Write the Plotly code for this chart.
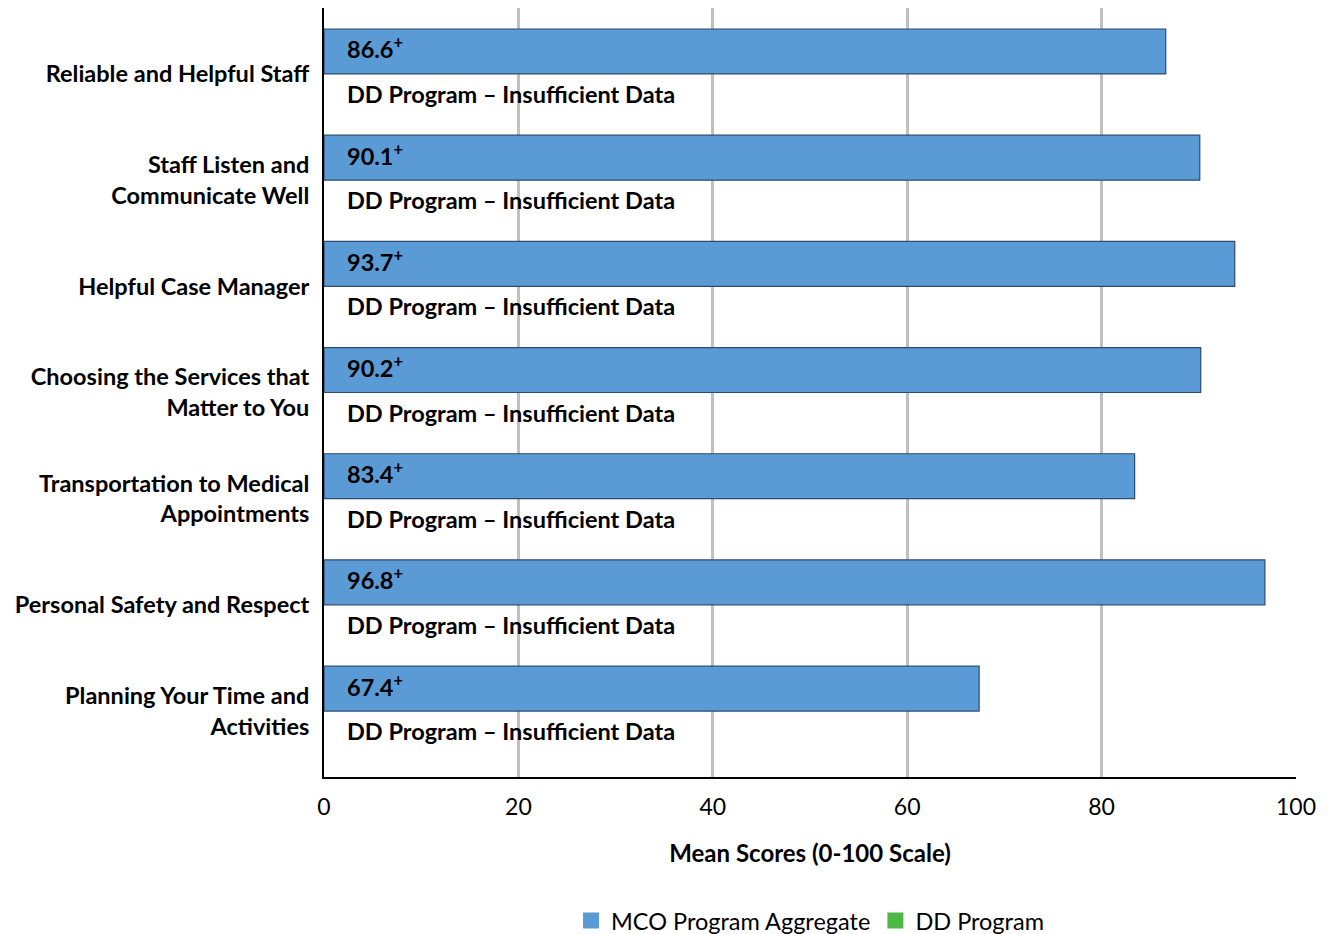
import plotly.graph_objects as go

categories = [
    "Reliable and Helpful Staff",
    "Staff Listen and<br>Communicate Well",
    "Helpful Case Manager",
    "Choosing the Services that<br>Matter to You",
    "Transportation to Medical<br>Appointments",
    "Personal Safety and Respect",
    "Planning Your Time and<br>Activities",
]
mco_values = [86.6, 90.1, 93.7, 90.2, 83.4, 96.8, 67.4]
dd_values = [0, 0, 0, 0, 0, 0, 0]
dd_label = "DD Program – Insufficient Data"
x_ticks = [0, 20, 40, 60, 80, 100]

FONT = "Lato"
MCO_COLOR = "#5b9bd5"
DD_COLOR = "#4db848"

fig = go.Figure()
fig.add_trace(go.Bar(
    y=categories, x=mco_values, orientation="h", name="MCO Program Aggregate",
    marker=dict(color=MCO_COLOR, line=dict(color="#2d4b6e", width=1.2)),
    showlegend=False,
))
fig.add_trace(go.Bar(
    y=categories, x=dd_values, orientation="h", name="DD Program",
    marker=dict(color=DD_COLOR, line=dict(width=0)),
    showlegend=False,
))
# legend entries with larger square swatches
for name, col in [("MCO Program Aggregate", MCO_COLOR), ("DD Program", DD_COLOR)]:
    fig.add_trace(go.Scatter(
        x=[None], y=[None], mode="markers", name=name,
        marker=dict(symbol="square", size=16, color=col),
    ))

annotations = []
for cat, v in zip(categories, mco_values):
    annotations.append(dict(
        x=0, y=cat, xref="x", yref="y", text=f"<b>{v:.1f}<sup>+</sup></b>",
        showarrow=False, xanchor="left", yanchor="middle", xshift=21, yshift=26,
        font=dict(family=FONT, size=23.5, color="#000000"),
    ))
    annotations.append(dict(
        x=0, y=cat, xref="x", yref="y", text=f"<b>{dd_label}</b>",
        showarrow=False, xanchor="left", yanchor="middle", xshift=21, yshift=-20,
        font=dict(family=FONT, size=23.5, color="#000000"),
    ))

fig.update_layout(
    width=1328, height=934,
    margin=dict(l=316, r=40, t=0, b=165, autoexpand=False),
    paper_bgcolor="white", plot_bgcolor="white",
    barmode="group", bargap=0.154, bargroupgap=0,
    font=dict(family=FONT, size=23, color="#000000"),
    showlegend=True,
    legend=dict(orientation="h", x=0.5, xanchor="center", y=-0.187, yanchor="middle",
                font=dict(family=FONT, size=23.5, color="#000000"), traceorder="normal"),
    annotations=annotations,
    xaxis=dict(
        range=[0, 100], tickvals=x_ticks, ticktext=[str(t) for t in x_ticks],
        showgrid=True, gridcolor="#c0c0c0", gridwidth=3,
        showline=True, linecolor="#000000", linewidth=2, zeroline=False,
        ticks="outside", ticklen=8, tickcolor="rgba(0,0,0,0)",
        tickfont=dict(family=FONT, size=23), automargin=False,
        title=dict(text="<b>Mean Scores (0-100 Scale)</b>", standoff=27,
                   font=dict(family=FONT, size=24)),
    ),
    yaxis=dict(
        range=[6.621, -0.621], showgrid=False,
        showline=True, linecolor="#000000", linewidth=2, zeroline=False,
        ticks="outside", ticklen=8, tickcolor="rgba(0,0,0,0)",
        tickfont=dict(family=FONT, size=23.5), automargin=False,
    ),
)
fig.update_yaxes(ticktext=[f"<b>{c}</b>" for c in categories], tickvals=categories)

fig.write_html("out.html")
